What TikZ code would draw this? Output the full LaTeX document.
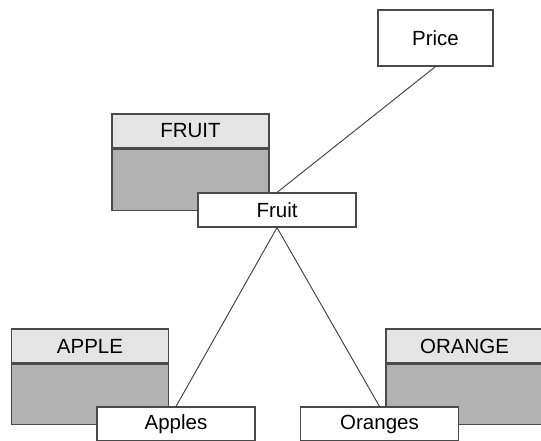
\documentclass[tikz,border=0pt]{standalone}
\usepackage{fontspec}
\setmainfont{Liberation Sans}
\usepackage{xcolor}
\usepackage{tikz}
\usetikzlibrary{positioning}
\definecolor{edgegray}{HTML}{4A4A4A}
\definecolor{headgray}{HTML}{E4E4E4}
\definecolor{bodygray}{HTML}{B2B2B2}
\definecolor{linkgray}{HTML}{3A3A3A}
\tikzset{
  tablehead/.style={rectangle,draw=edgegray,fill=headgray,line width=1.1pt,
    minimum width=157pt,minimum height=34pt,inner sep=0pt,font=\fontsize{20.5}{24}\selectfont},
  tablebody/.style={rectangle,draw=edgegray,fill=bodygray,line width=1.1pt,
    minimum width=157pt,minimum height=#1,inner sep=0pt},
  tablebody/.default=60pt,
  entity/.style={rectangle,draw=edgegray,fill=white,line width=1.1pt,
    minimum width=158pt,minimum height=34pt,inner sep=0pt,font=\fontsize{20.5}{24}\selectfont},
  link/.style={draw=linkgray,line width=0.9pt}
}

\begin{document}
\begin{tikzpicture}[x=1pt,y=-1pt]
\useasboundingbox (0,0) rectangle (541,440);
% tables behind the entities
\node[tablehead] (fruithead) at (190.5,131) {FRUIT};
\node[tablebody=61pt,below=0pt of fruithead] (fruitbody) {};
\node[tablehead] (applehead) at (90,346) {APPLE};
\node[tablebody,below=0pt of applehead] (applebody) {};
\node[tablehead] (orangehead) at (464.5,346) {ORANGE};
\node[tablebody,below=0pt of orangehead] (orangebody) {};
% entities
\node[entity,minimum width=115pt,minimum height=56pt] (price) at (435.5,38) {Price};
\node[entity] (fruit) at (277,210) {Fruit};
\node[entity] (apples) at (176,424) {Apples};
\node[entity] (oranges) at (379.5,424) {Oranges};
% links
\draw[link] (price.south) -- (fruit.north);
\draw[link] (fruit.south) -- (apples.north);
\draw[link] (fruit.south) -- (oranges.north);
\end{tikzpicture}
\end{document}
